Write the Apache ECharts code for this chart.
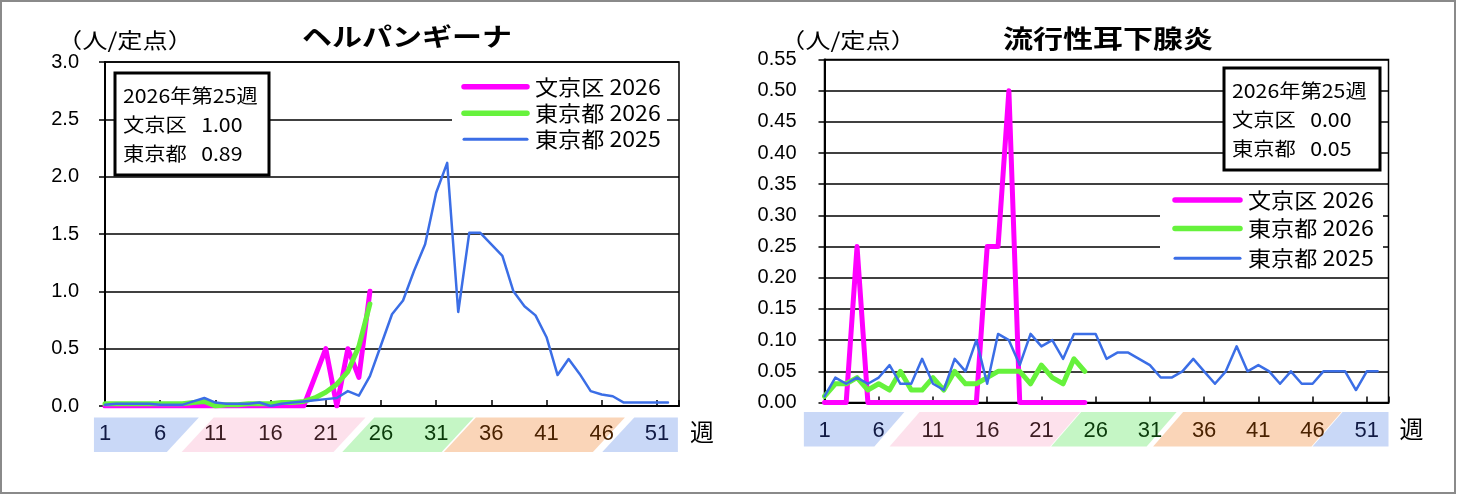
<!DOCTYPE html>
<html>
<head>
<meta charset="utf-8">
<script src="https://cdn.jsdelivr.net/npm/echarts@6/dist/echarts.min.js"></script>
<style>
  html, body { margin: 0; padding: 0; background: #fff; }
  #main { width: 1458px; height: 496px; }
</style>
</head>
<body>
<div id="main"></div>
<script>
// 集計年・週
var curYear = 2026;

// ヘルパンギーナ（人/定点）
var herpBunkyo2026 = [0, 0, 0, 0, 0, 0, 0, 0, 0, 0, 0, 0, 0, 0, 0, 0, 0, 0, 0, 0.25, 0.5, 0, 0.5, 0.25, 1.0];
var herpTokyo2026 = [0.02, 0.02, 0.02, 0.02, 0.02, 0.02, 0.02, 0.02, 0.03, 0.04, 0.0, 0.01, 0.01, 0.02, 0.02,
  0.02, 0.03, 0.03, 0.04, 0.07, 0.12, 0.19, 0.3, 0.52, 0.89];
var herpTokyo2025 = [0.01, 0.02, 0.02, 0.02, 0.02, 0.01, 0.01, 0.01, 0.04, 0.07, 0.03, 0.02, 0.02, 0.02, 0.03,
  0.0, 0.02, 0.03, 0.04, 0.05, 0.06, 0.07, 0.13, 0.09, 0.26, 0.53, 0.8, 0.92, 1.18, 1.41,
  1.86, 2.12, 0.82, 1.51, 1.51, 1.41, 1.31, 1.0, 0.87, 0.79, 0.6, 0.27, 0.41, 0.28, 0.13,
  0.1, 0.085, 0.03, 0.03, 0.03, 0.03, 0.03];

// 流行性耳下腺炎（人/定点）
var mumpsBunkyo2026 = [0, 0, 0, 0.25, 0, 0, 0, 0, 0, 0, 0, 0, 0, 0, 0, 0.25, 0.25, 0.5, 0, 0, 0, 0, 0, 0, 0];
var mumpsTokyo2026 = [0.01, 0.03, 0.03, 0.04, 0.02, 0.03, 0.02, 0.05, 0.02, 0.02, 0.04, 0.02, 0.05, 0.03, 0.03,
  0.04, 0.05, 0.05, 0.05, 0.03, 0.06, 0.04, 0.03, 0.07, 0.05];
var mumpsTokyo2025 = [0.01, 0.04, 0.03, 0.04, 0.03, 0.04, 0.06, 0.03, 0.03, 0.07, 0.03, 0.02, 0.07, 0.05, 0.10,
  0.03, 0.11, 0.10, 0.06, 0.11, 0.09, 0.10, 0.07, 0.11, 0.11, 0.11, 0.07, 0.08, 0.08, 0.07,
  0.06, 0.04, 0.04, 0.05, 0.07, 0.05, 0.03, 0.05, 0.09, 0.05, 0.06, 0.05, 0.03, 0.05, 0.03,
  0.03, 0.05, 0.05, 0.05, 0.02, 0.05, 0.05];

// 週目盛りと色帯（週の範囲）
var weekLabels = [1, 6, 11, 16, 21, 26, 31, 36, 41, 46, 51];
var weekLabelBand = [0, 0, 1, 1, 1, 2, 2, 3, 3, 3, 4];
var bandsLeft = [[0, 6.6], [7.95, 21.7], [22.5, 31.5], [31.7, 45.2], [46.05, 52.9]];
var bandsRight = [[-0.9, 5.6], [7.0, 21.8], [21.9, 30.7], [31.3, 45.9], [46.0, 53]];

var seriesNames = ['文京区 2026', '東京都 2026', '東京都 2025'];

var bandFill = ['#c9d8f7', '#fde1ec', '#c5f6c5', '#fad5b8', '#c9d8f7'];
var bandText = ['#111a44', '#3b1c22', '#0b3b0b', '#4a2200', '#111a44'];
var lineColors = ['#ff00ff', '#66f23c', '#3b6ee6'];
var lineWidths = [5, 5, 2.5];
var jp = '"Noto Sans CJK JP", sans-serif';
var num = '"Liberation Sans", Arial, sans-serif';

function toXY(arr) {
  return arr.map(function (v, i) { return [i + 1, v]; });
}

function lineSeries(idx, data, k) {
  return {
    type: 'line', name: seriesNames[k], xAxisIndex: idx, yAxisIndex: idx,
    data: toXY(data), symbol: 'none', silent: true, z: 3 + k,
    lineStyle: { color: lineColors[k], width: lineWidths[k], join: 'round', cap: 'round' },
    itemStyle: { color: lineColors[k] }
  };
}

function bandSeries(idx, bands, offset, slant) {
  return {
    type: 'custom', xAxisIndex: idx, yAxisIndex: idx, silent: true, clip: false, z: 1,
    data: bands.map(function (b, i) { return [b[0], b[1], i]; }),
    renderItem: function (params, api) {
      var a = api.coord([api.value(0), 0]);
      var b = api.coord([api.value(1), 0]);
      var top = a[1] + offset, bot = top + 34.5;
      var first = params.dataIndex === 0;
      var last = params.dataIndex === bands.length - 1;
      var pts = [
        [a[0], bot],
        [first ? a[0] : a[0] + slant, top],
        [last ? b[0] : b[0] + slant, top],
        [b[0], bot]
      ];
      return { type: 'polygon', shape: { points: pts }, style: { fill: bandFill[api.value(2)] } };
    }
  };
}

function labelSeries(idx) {
  return {
    type: 'custom', xAxisIndex: idx, yAxisIndex: idx, silent: true, clip: false, z: 2,
    data: weekLabels.map(function (w, i) { return [w, weekLabelBand[i]]; }),
    renderItem: function (params, api) {
      var p = api.coord([api.value(0), 0]);
      return {
        type: 'text', x: p[0], y: p[1] + 28,
        style: {
          text: String(api.value(0)), fill: bandText[api.value(1)],
          font: '22px "Liberation Sans Narrow", "Liberation Sans", sans-serif',
          align: 'center', verticalAlign: 'middle'
        }
      };
    }
  };
}

function xAxisCfg(idx) {
  return {
    gridIndex: idx, type: 'value', min: 1, max: 53, interval: 5,
    axisLine: { show: true, lineStyle: { color: '#000', width: 2 } },
    axisTick: { show: true, inside: true, length: 6, lineStyle: { color: '#000', width: 1.5 } },
    axisLabel: { show: false },
    splitLine: { show: false },
    name: '週', nameLocation: 'end', nameGap: 11,
    nameTextStyle: { fontFamily: jp, fontSize: 24, color: '#000', verticalAlign: 'top', padding: [14, 0, 0, 0] }
  };
}

function yAxisCfg(idx, max, step, digits, margin) {
  return {
    gridIndex: idx, type: 'value', min: 0, max: max, interval: step,
    axisLine: { show: true, lineStyle: { color: '#000', width: 2 } },
    axisTick: { show: true, inside: false, length: 6, lineStyle: { color: '#000', width: 1.5 } },
    axisLabel: {
      margin: margin, fontSize: 20, color: '#000', fontFamily: num,
      formatter: function (v) { return v.toFixed(digits); }
    },
    splitLine: { show: true, lineStyle: { color: '#000', width: 1.5 } }
  };
}

// 凡例（白地の枠に線と名前）
function legendBox(x, y, w, h, lx0, lx1, tx, ys) {
  var out = [{ type: 'rect', z: 30, shape: { x: x, y: y, width: w, height: h }, style: { fill: '#fff' } }];
  seriesNames.forEach(function (n, k) {
    out.push({ type: 'line', z: 31, shape: { x1: lx0, y1: ys[k], x2: lx1, y2: ys[k] },
      style: { stroke: lineColors[k], lineWidth: lineWidths[k] + 0.5, lineCap: 'round' } });
    out.push({ type: 'text', z: 31, x: tx, y: ys[k], scaleX: 1.1,
      style: { text: n, font: '21px ' + jp, fill: '#000', verticalAlign: 'middle' } });
  });
  return out;
}

function infoBox(x, y, w, h, bunkyo, tokyo) {
  var week = bunkyo.length;
  var txt = curYear + '年第' + week + '週\n' +
    '文京区   ' + bunkyo[week - 1].toFixed(2) + '\n' +
    '東京都   ' + tokyo[week - 1].toFixed(2);
  return [
    { type: 'rect', z: 30, shape: { x: x, y: y, width: w, height: h },
      style: { fill: '#fff', stroke: '#000', lineWidth: 3 } },
    { type: 'text', z: 31, x: x + 8, y: y + 8, scaleX: 1.12,
      style: { text: txt, font: '19px ' + jp, fill: '#000', lineHeight: 29 } }
  ];
}

var chart = echarts.init(document.getElementById('main'));

var graphics = [
  { type: 'rect', z: 50, shape: { x: 1, y: 1, width: 1454, height: 492 },
    style: { fill: 'none', stroke: '#8a8a8a', lineWidth: 2 } },
  { type: 'text', z: 30, x: 407, y: 36, scaleX: 1.2,
    style: { text: 'ヘルパンギーナ', font: 'bold 25px ' + jp, fill: '#000', align: 'center', verticalAlign: 'middle' } },
  { type: 'text', z: 30, x: 1108, y: 38, scaleX: 1.2,
    style: { text: '流行性耳下腺炎', font: 'bold 25px ' + jp, fill: '#000', align: 'center', verticalAlign: 'middle' } },
  { type: 'text', z: 30, x: 125, y: 40, scaleX: 1.2,
    style: { text: '（人/定点）', font: '21px ' + jp, fill: '#000', align: 'center', verticalAlign: 'middle' } },
  { type: 'text', z: 30, x: 848, y: 40, scaleX: 1.2,
    style: { text: '（人/定点）', font: '21px ' + jp, fill: '#000', align: 'center', verticalAlign: 'middle' } }
].concat(infoBox(115, 73, 154, 102, herpBunkyo2026, herpTokyo2026))
 .concat(infoBox(1224, 68, 156, 102, mumpsBunkyo2026, mumpsTokyo2026))
 .concat(legendBox(452, 75, 215, 77, 464, 527, 535, [86.7, 113.3, 139.3]))
 .concat(legendBox(1160, 186, 223, 90, 1175, 1240, 1248, [200, 228.5, 258.3]));

var option = {
  animation: false,
  backgroundColor: '#fff',
  grid: [
    { left: 105, top: 62, width: 574, height: 344, show: true, borderColor: '#000', borderWidth: 1.5,
      containLabel: false, outerBoundsMode: 'none' },
    { left: 824.5, top: 59.5, width: 564, height: 343, show: true, borderColor: '#000', borderWidth: 1.5,
      containLabel: false, outerBoundsMode: 'none' }
  ],
  xAxis: [xAxisCfg(0), xAxisCfg(1)],
  yAxis: [yAxisCfg(0, 3, 0.5, 1, 26), yAxisCfg(1, 0.55, 0.05, 2, 28)],
  graphic: graphics,
  series: [
    bandSeries(0, bandsLeft, 11.5, 32),
    labelSeries(0),
    lineSeries(0, herpBunkyo2026, 0),
    lineSeries(0, herpTokyo2026, 1),
    lineSeries(0, herpTokyo2025, 2),
    bandSeries(1, bandsRight, 9.5, 30),
    labelSeries(1),
    lineSeries(1, mumpsBunkyo2026, 0),
    lineSeries(1, mumpsTokyo2026, 1),
    lineSeries(1, mumpsTokyo2025, 2)
  ]
};
chart.setOption(option);
</script>
</body>
</html>
